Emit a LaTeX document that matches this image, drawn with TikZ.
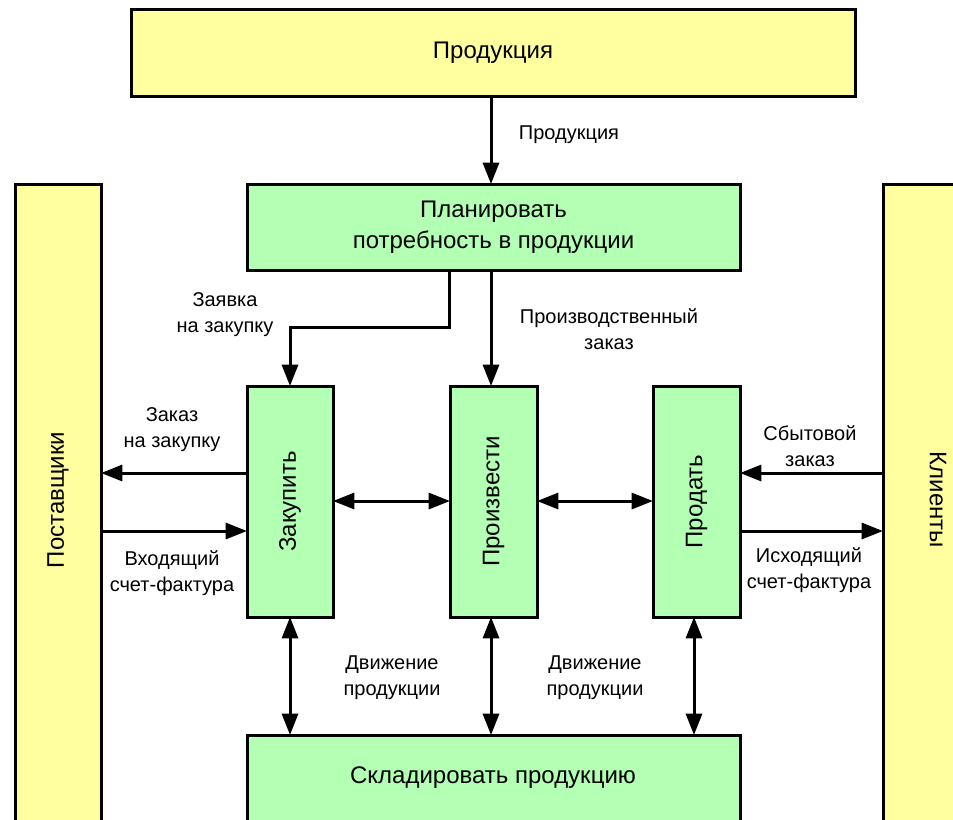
\documentclass[tikz,border=0pt]{standalone}
\usepackage{fontspec}
\setmainfont{Liberation Sans}
\usetikzlibrary{arrows.meta,fit}
\definecolor{boxyellow}{HTML}{FFFFA0}
\definecolor{boxgreen}{HTML}{B3FFB3}
\tikzset{
  frame/.style={draw=black, line width=2.25pt, inner sep=0pt, outer sep=0pt},
  ybox/.style={frame, fill=boxyellow},
  gbox/.style={frame, fill=boxgreen},
  boxtext/.style={font=\fontsize{18}{23}\selectfont, align=center, inner sep=0pt},
  lbl/.style={font=\fontsize{15}{19.5}\selectfont, align=center, inner sep=0pt},
  conn/.style={line width=2.25pt, -{Triangle[length=16pt,width=12pt]}},
  dconn/.style={line width=2.25pt, {Triangle[length=16pt,width=12pt]}-{Triangle[length=16pt,width=12pt]}},
}
\begin{document}
\begin{tikzpicture}[x=0.75pt, y=-0.75pt]
\clip (0,0) rectangle (953,819);
\fill[white] (0,0) rectangle (953,819);
% boxes
\node[ybox, fit={(131,9) (855,96)}] (prod) {};
\node[boxtext] (prodT) at (prod.center) {Продукция};
\node[gbox, fit={(247,184) (740,270)}] (plan) {};
\node[boxtext] (planT) at (plan.center) {Планировать\\потребность в продукции};
\node[ybox, fit={(15,184) (101,850)}] (supp) {};
\node[boxtext, rotate=90] (suppT) at (58,500) {Поставщики};
\node[ybox, fit={(883,184) (980,850)}] (cli) {};
\node[boxtext, rotate=-90] (cliT) at (938,500) {Клиенты};
\node[gbox, fit={(247,386) (333,617)}] (buy) {};
\node[boxtext, rotate=90] (buyT) at (buy.center) {Закупить};
\node[gbox, fit={(450,386) (537,617)}] (make) {};
\node[boxtext, rotate=90] (makeT) at (make.center) {Произвести};
\node[gbox, fit={(653,386) (740,617)}] (sell) {};
\node[boxtext, rotate=90] (sellT) at (sell.center) {Продать};
\node[gbox, fit={(247,735) (740,850)}] (store) {};
\node[boxtext] (storeT) at (493,778) {Складировать продукцию};
% helper coordinates
\coordinate (p1) at (491,96);
\coordinate (p2) at (491,184);
\coordinate (r1) at (449,270);
\coordinate (r2) at (449,327);
\coordinate (r3) at (290,327);
\coordinate (r4) at (290,386);
\coordinate (m1) at (491,270);
\coordinate (m2) at (491,386);
% connectors
\draw[conn] (p1) -- (p2);
\draw[conn, line join=miter] (r1) -- (r2) -- (r3) -- (r4);
\draw[conn] (m1) -- (m2);
\draw[conn] (buy.west |- 0,473) -- (supp.east |- 0,473);
\draw[conn] (supp.east |- 0,531) -- (buy.west |- 0,531);
\draw[conn] (cli.west |- 0,473) -- (sell.east |- 0,473);
\draw[conn] (sell.east |- 0,531) -- (cli.west |- 0,531);
\draw[dconn] (buy.east |- 0,501) -- (make.west |- 0,501);
\draw[dconn] (make.east |- 0,501) -- (sell.west |- 0,501);
\draw[dconn] (290,617) -- (290,735);
\draw[dconn] (491,617) -- (491,735);
\draw[dconn] (694,617) -- (694,735);
% labels
\node[lbl] (l1) at (569,135) {Продукция};
\node[lbl] (l2) at (225,315) {Заявка\\на закупку};
\node[lbl] (l3) at (609,329) {Производственный\\заказ};
\node[lbl] (l4) at (172,430) {Заказ\\на закупку};
\node[lbl] (l5) at (172,573) {Входящий\\счет-фактура};
\node[lbl] (l6) at (810,446) {Сбытовой\\заказ};
\node[lbl] (l7) at (809,570) {Исходящий\\счет-фактура};
\node[lbl] (l8) at (392,678) {Движение\\продукции};
\node[lbl] (l9) at (595,678) {Движение\\продукции};
\end{tikzpicture}
\end{document}
